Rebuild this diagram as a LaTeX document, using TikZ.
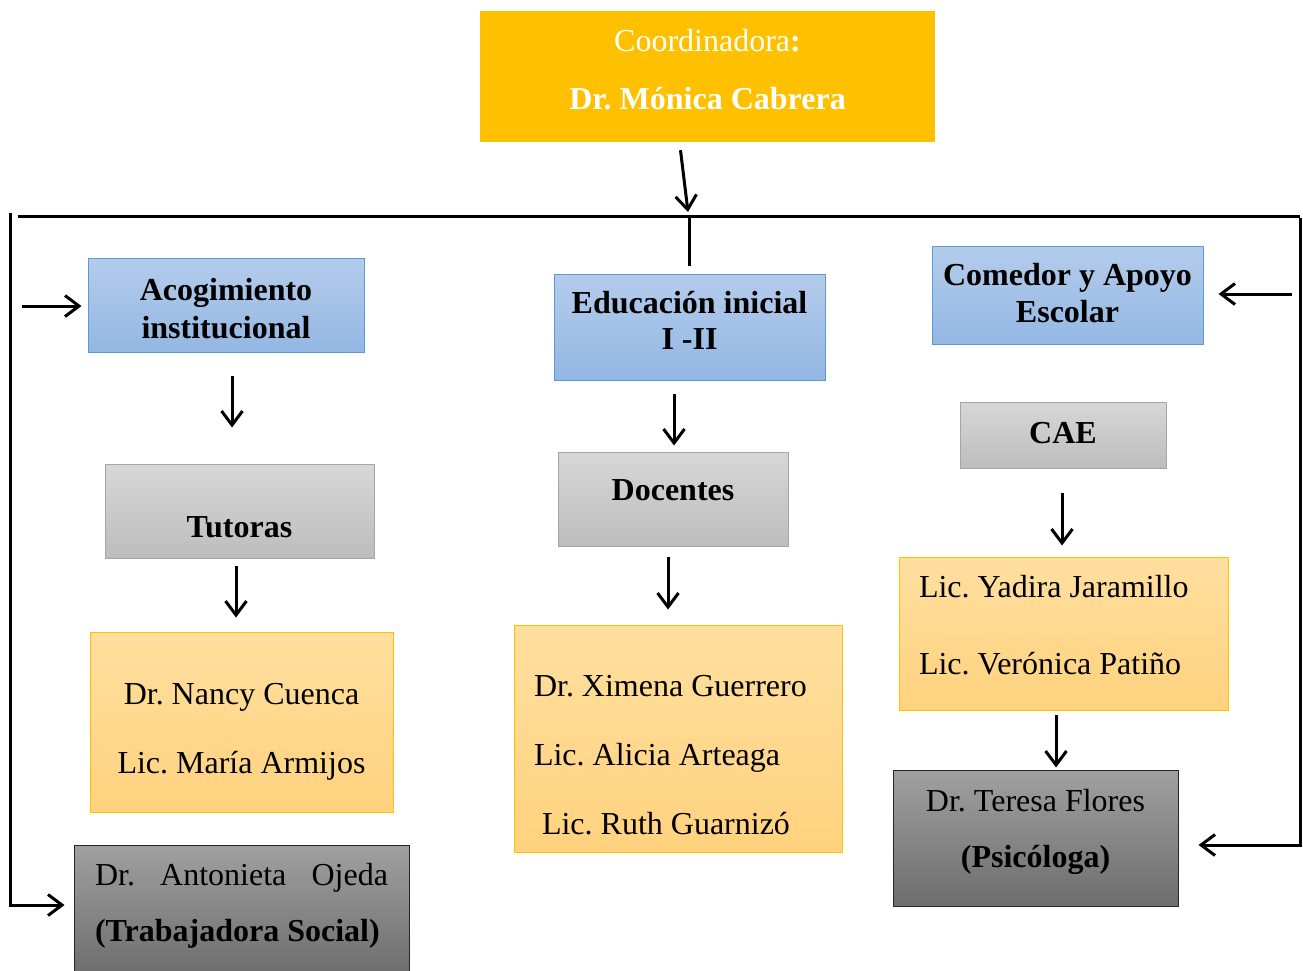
\documentclass[tikz,border=0pt]{standalone}
\usepackage{fontspec}
\setmainfont{Liberation Serif}
\usetikzlibrary{arrows.meta, calc}
\frenchspacing

\definecolor{coordgold}{HTML}{FFC000}
\definecolor{blueTop}{HTML}{B4CCEB}
\definecolor{blueBot}{HTML}{93B7E3}
\definecolor{blueLine}{HTML}{5B9BD5}
\definecolor{grayTop}{HTML}{D7D7D7}
\definecolor{grayBot}{HTML}{BDBDBD}
\definecolor{grayLine}{HTML}{A5A5A5}
\definecolor{orangeTop}{HTML}{FFDF9F}
\definecolor{orangeBot}{HTML}{FFD27E}
\definecolor{darkTop}{HTML}{A0A0A0}
\definecolor{darkBot}{HTML}{6D6D6D}

% move the text inside a box without changing its size
\newcommand{\nudge}[2]{\raisebox{#1}[\height][\depth]{#2}}

\begin{document}
\begin{tikzpicture}[x=1pt, y=-1pt,
    areabox/.style={draw=blueLine, line width=1pt, top color=blueTop, bottom color=blueBot, font=\fontsize{32pt}{38pt}\selectfont\bfseries},
    unitbox/.style={draw=grayLine, line width=1pt, top color=grayTop, bottom color=grayBot, font=\fontsize{32pt}{38pt}\selectfont\bfseries},
    namebox/.style={draw=coordgold, line width=1pt, top color=orangeTop, bottom color=orangeBot, font=\fontsize{32pt}{69pt}\selectfont},
    staffbox/.style={draw=black!85, line width=1pt, top color=darkTop, bottom color=darkBot, font=\fontsize{32pt}{56pt}\selectfont},
    arr/.style={-{Straight Barb[length=14pt,width=21pt]}, line width=3pt},
    bus/.style={line width=3pt}]
  \useasboundingbox (0,0) rectangle (1303,971);

  % coordinacion
  \node[fill=coordgold, minimum width=455pt, minimum height=131pt, text=white, font=\fontsize{32pt}{58pt}\selectfont] (coord) at (707.5,76.5) {\nudge{7pt}{\parbox{440pt}{\centering Coordinadora\textbf{:}\\\textbf{Dr. Mónica Cabrera}}}};

  % areas
  \node[areabox, minimum width=276pt, minimum height=94pt] (acog) at (226,305) {\nudge{-4pt}{\parbox{260pt}{\centering Acogimiento\\institucional}}};
  \node[areabox, minimum width=271pt, minimum height=106pt, font=\fontsize{32pt}{36pt}\selectfont\bfseries] (educ) at (689.5,327) {\nudge{7pt}{\parbox{260pt}{\centering Educación inicial\\I -II}}};
  \node[areabox, minimum width=271pt, minimum height=98pt, font=\fontsize{32pt}{37pt}\selectfont\bfseries] (comedor) at (1067.5,295) {\nudge{2pt}{\parbox{260pt}{\centering Comedor y Apoyo\\Escolar}}};

  % unidades
  \node[unitbox, minimum width=269pt, minimum height=94pt] (tutoras) at (239.5,511) {\nudge{-16pt}{Tutoras}};
  \node[unitbox, minimum width=230pt, minimum height=94pt] (docentes) at (673,499) {\nudge{9pt}{Docentes}};
  \node[unitbox, minimum width=206pt, minimum height=66pt] (cae) at (1063,435) {\nudge{2pt}{CAE}};

  % personal
  \node[namebox, minimum width=303pt, minimum height=180pt] (nancy) at (241.5,722) {\nudge{-10pt}{\parbox{290pt}{\centering Dr. Nancy Cuenca\\Lic. María Armijos}}};
  \node[namebox, minimum width=328pt, minimum height=227pt] (ximena) at (678,738.5) {\nudge{-17pt}{\parbox{288pt}{Dr. Ximena Guerrero\\Lic. Alicia Arteaga\\\hspace*{8pt}Lic. Ruth Guarnizó}}};
  \node[namebox, minimum width=329pt, minimum height=153pt, font=\fontsize{32pt}{77pt}\selectfont] (yadira) at (1063.5,633.5) {\nudge{8pt}{\parbox{289pt}{Lic. Yadira Jaramillo\\Lic. Verónica Patiño}}};
  \node[staffbox, minimum width=335pt, minimum height=130pt] (antonieta) at (241.5,910) {\nudge{4pt}{\parbox{293pt}{\makebox[293pt][s]{Dr.\hfill Antonieta\hfill Ojeda}\\\textbf{(Trabajadora Social)}}}};
  \node[staffbox, minimum width=285pt, minimum height=136pt] (teresa) at (1035.5,838) {\nudge{6pt}{\parbox{270pt}{\centering Dr. Teresa Flores\\\textbf{(Psicóloga)}}}};

  % lineas de distribucion
  \coordinate (hub) at (688,216);
  \coordinate (busL) at (18,216);
  \coordinate (busR) at (1300,216);
  \coordinate (sideL) at (10,213);
  \coordinate (acogIn) at (22,306);
  \coordinate (comedorIn) at (1292,294);

  \draw[arr] ([xshift=-27pt,yshift=-8pt]coord.south) -- ([yshift=4pt]hub);
  \draw[bus] (busL) -- (busR);
  \draw[arr] ([yshift=-1.5pt]busR) |- ([xshift=20pt,yshift=-7pt]teresa.east);
  \draw[arr] (sideL) |- ([xshift=-9pt,yshift=5pt]antonieta.west);
  \draw[bus, shorten >=8pt] (hub -| educ.north) -- (educ.north);
  \draw[arr] (acogIn) -- ([xshift=-6pt]acog.west |- acogIn);
  \draw[arr] (comedorIn) -- ([xshift=15pt]comedor.east |- comedorIn);

  \draw[arr, shorten <=23pt, shorten >=36pt] ([xshift=6pt]acog.south) -- ([xshift=6pt]acog.south |- tutoras.north);
  \draw[arr, shorten <=7pt, shorten >=14pt] ([xshift=-3.5pt]tutoras.south) -- ([xshift=-3.5pt]tutoras.south |- nancy.north);
  \draw[arr, shorten <=13pt, shorten >=6pt] ([xshift=-15.5pt]educ.south) -- ([xshift=-15.5pt]educ.south |- docentes.north);
  \draw[arr, shorten <=10pt, shorten >=15pt] ([xshift=-5pt]docentes.south) -- ([xshift=-5pt]docentes.south |- ximena.north);
  \draw[arr, shorten <=24pt, shorten >=11pt] ([xshift=-1pt]cae.south) -- ([xshift=-1pt]cae.south |- yadira.north);
  \draw[arr, shorten <=4pt, shorten >=2pt] ([xshift=-7.5pt]yadira.south) -- ([xshift=-7.5pt]yadira.south |- teresa.north);
\end{tikzpicture}
\end{document}
